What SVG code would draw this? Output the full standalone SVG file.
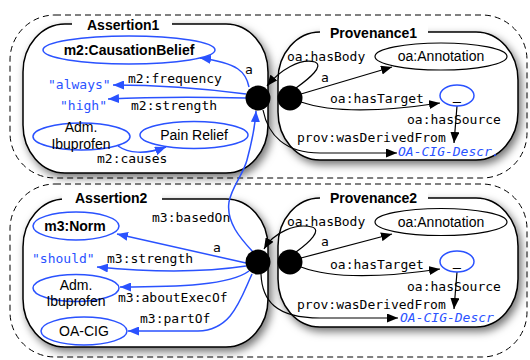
<svg xmlns="http://www.w3.org/2000/svg" width="530" height="360" viewBox="0 0 530 360">
<style>
.dash{fill:none;stroke:#000;stroke-width:1;stroke-dasharray:6,4}
.box{fill:#fff;stroke:#000;stroke-width:1.5}
.ttl{font-family:"Liberation Sans",Arial,sans-serif;font-weight:bold;font-size:14px;fill:#000}
.bn{fill:#fff;stroke:#2a52ff;stroke-width:1.5}
.kn{fill:#fff;stroke:#000;stroke-width:1.2}
.nt{font-family:"Liberation Sans",Arial,sans-serif;font-size:14px;fill:#000;text-anchor:middle}
.nb{font-family:"Liberation Sans",Arial,sans-serif;font-size:14px;font-weight:bold;fill:#000;text-anchor:middle}
.lbl{font-family:"DejaVu Sans Mono","Liberation Mono",monospace;font-size:13px;fill:#000}
.lit{font-family:"DejaVu Sans Mono","Liberation Mono",monospace;font-size:13px;fill:#2a52ff}
.itl{font-family:"DejaVu Sans Mono","Liberation Mono",monospace;font-size:13px;font-style:italic;fill:#2a52ff}
.eb{fill:none;stroke:#2a52ff;stroke-width:1.5;marker-end:url(#ab)}
.ek{fill:none;stroke:#000;stroke-width:1.2;marker-end:url(#ak)}
</style>
<defs>
<filter id="sh" x="-10%" y="-10%" width="125%" height="130%">
<feDropShadow dx="3" dy="4" stdDeviation="4" flood-color="#000" flood-opacity="0.55"/>
</filter>
<marker id="ab" markerWidth="11" markerHeight="9" refX="11" refY="4.5" orient="auto" markerUnits="userSpaceOnUse"><path d="M0,0 L11,4.5 L0,9 z" fill="#2a52ff"/></marker>
<marker id="ak" markerWidth="11" markerHeight="9" refX="11" refY="4.5" orient="auto" markerUnits="userSpaceOnUse"><path d="M0,0 L11,4.5 L0,9 z" fill="#000"/></marker>
</defs>
<rect width="530" height="360" fill="#fff"/>

<g id="group1">
<rect class="dash" x="10" y="15" width="517" height="163" rx="45" ry="45"/>
</g>
<g id="group2">
<rect class="dash" x="10" y="184" width="517" height="173" rx="45" ry="45"/>
</g>

<g id="Assertion1">
<rect class="box" filter="url(#sh)" x="23" y="24" width="245" height="149" rx="42" ry="48"/>
<rect x="72" y="17" width="100" height="15" fill="#fff"/>
<text class="ttl" x="87" y="30">Assertion1</text>
</g>
<g id="Provenance1">
<rect class="box" filter="url(#sh)" x="278" y="32" width="240" height="128" rx="42" ry="48"/>
<rect x="320" y="25" width="108" height="15" fill="#fff"/>
<text class="ttl" x="330" y="38">Provenance1</text>
</g>
<g id="Assertion2">
<rect class="box" filter="url(#sh)" x="23" y="199" width="245" height="148" rx="42" ry="48"/>
<rect x="62" y="192" width="100" height="15" fill="#fff"/>
<text class="ttl" x="75" y="203">Assertion2</text>
</g>
<g id="Provenance2">
<rect class="box" filter="url(#sh)" x="278" y="198" width="240" height="129" rx="42" ry="48"/>
<rect x="320" y="191" width="108" height="15" fill="#fff"/>
<text class="ttl" x="330" y="203">Provenance2</text>
</g>

<g id="connectors">
<!-- Assertion1 -->
<path class="eb" d="M249,87 C246,72 238,63 200,58"/>
<path class="eb" d="M246,94 C200,88 150,85 113,85"/>
<path class="eb" d="M246,98 C200,97 150,97 108,99"/>
<path class="eb" d="M118,146 C128,153 145,155 166,147"/>
<path class="eb" d="M253,252 C240,238 226,222 229,202 C232,186 243,175 247,160 C251,145 255,130 256,111"/>
<!-- Provenance1 -->
<path class="ek" d="M296,88 C310,78 324,66 315,62 C300,58 280,70 267,86"/>
<path class="ek" d="M301,94 L392,67"/>
<path class="ek" d="M301,102 C330,112 380,112 440,103"/>
<path class="ek" d="M457,106 L454,143"/>
<path class="ek" d="M263,110 C268,135 285,153 320,153 L397,153"/>
<!-- Assertion2 -->
<path class="eb" d="M246,263 L117,234"/>
<path class="eb" d="M246,266 C200,273 150,272 97,267"/>
<path class="eb" d="M249,271 C230,285 180,287 120,287"/>
<path class="eb" d="M252,274 C240,300 232,330 198,331 L128,331"/>
<!-- Provenance2 -->
<path class="ek" d="M296,252 C310,242 322,230 312,227 C296,223 274,232 264,249"/>
<path class="ek" d="M301,258 L392,234"/>
<path class="ek" d="M301,267 C330,278 380,278 440,269"/>
<path class="ek" d="M457,272 L454,309"/>
<path class="ek" d="M261,274 C262,300 275,318 320,318 L398,318"/>
</g>

<g id="a1dot"><circle cx="258" cy="98" r="12.5" fill="#000"/></g>
<g id="p1dot"><circle cx="290" cy="98" r="12.5" fill="#000"/></g>
<g id="a2dot"><circle cx="258" cy="262" r="12.5" fill="#000"/></g>
<g id="p2dot"><circle cx="290" cy="262" r="12.5" fill="#000"/></g>

<g id="CausationBelief"><ellipse class="bn" cx="129" cy="50" rx="86" ry="14"/><text class="nb" x="129" y="55">m2:CausationBelief</text></g>
<g id="always"><text class="lit" x="48" y="89">"always"</text></g>
<g id="high"><text class="lit" x="60" y="110">"high"</text></g>
<g id="AdmIbu1"><ellipse class="bn" cx="81.5" cy="136.5" rx="48.5" ry="13.5"/><text class="nt" x="81" y="132">Adm.</text><text class="nt" x="81" y="149">Ibuprofen</text></g>
<g id="PainRelief"><ellipse class="bn" cx="194" cy="135" rx="54" ry="13.5"/><text class="nt" x="194" y="140">Pain Relief</text></g>

<g id="Annotation1"><ellipse class="kn" cx="441" cy="56.5" rx="66" ry="13.5"/><text class="nt" x="441" y="61">oa:Annotation</text></g>
<g id="blank1"><ellipse class="bn" cx="457" cy="95.5" rx="17" ry="10.5"/><text class="nt" x="457" y="100">_</text></g>
<g id="Descr1"><text class="itl" x="398" y="156">OA-CIG-Descr.</text></g>

<g id="Norm"><ellipse class="bn" cx="76" cy="226" rx="43" ry="14"/><text class="nb" x="75" y="231">m3:Norm</text></g>
<g id="should"><text class="lit" x="32" y="263">"should"</text></g>
<g id="AdmIbu2"><ellipse class="bn" cx="76" cy="288" rx="43" ry="13.5"/><text class="nt" x="76" y="290">Adm.</text><text class="nt" x="76" y="306">Ibuprofen</text></g>
<g id="OACIG"><ellipse class="bn" cx="84" cy="331" rx="43" ry="14"/><text class="nt" x="84" y="336">OA-CIG</text></g>

<g id="Annotation2"><ellipse class="kn" cx="441" cy="222" rx="66" ry="13.5"/><text class="nt" x="441" y="227">oa:Annotation</text></g>
<g id="blank2"><ellipse class="bn" cx="457" cy="261.5" rx="17" ry="10.5"/><text class="nt" x="457" y="266">_</text></g>
<g id="Descr2"><text class="itl" x="400" y="322">OA-CIG-Descr</text></g>

<g id="labels">
<text class="lbl" x="245" y="74">a</text>
<text class="lbl" x="128" y="83">m2:frequency</text>
<text class="lbl" x="131" y="110">m2:strength</text>
<text class="lbl" x="97" y="163">m2:causes</text>
<text class="lbl" x="287" y="61">oa:hasBody</text>
<text class="lbl" x="321" y="82">a</text>
<text class="lbl" x="330" y="103">oa:hasTarget</text>
<text class="lbl" x="407" y="124">oa:hasSource</text>
<text class="lbl" x="297" y="142">prov:wasDerivedFrom</text>
<text class="lbl" x="152" y="222">m3:basedOn</text>
<text class="lbl" x="213" y="252">a</text>
<text class="lbl" x="107" y="263">m3:strength</text>
<text class="lbl" x="118" y="302">m3:aboutExecOf</text>
<text class="lbl" x="140" y="323">m3:partOf</text>
<text class="lbl" x="287" y="226">oa:hasBody</text>
<text class="lbl" x="321" y="246">a</text>
<text class="lbl" x="330" y="269">oa:hasTarget</text>
<text class="lbl" x="407" y="291">oa:hasSource</text>
<text class="lbl" x="297" y="309">prov:wasDerivedFrom</text>
</g>
</svg>
